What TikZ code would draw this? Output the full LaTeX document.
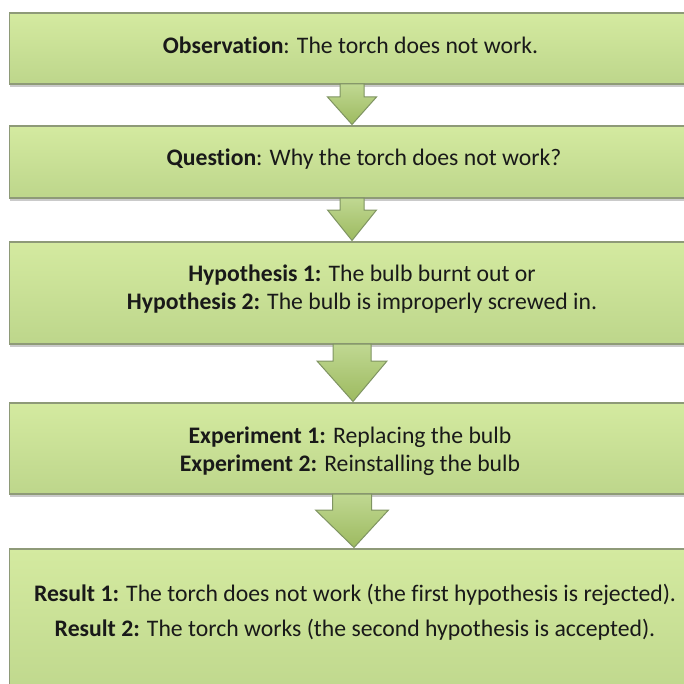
\documentclass[tikz,border=0pt]{standalone}
\usepackage{fontspec}
\setmainfont[Ligatures=CommonOff]{Carlito}
\usetikzlibrary{calc,shadows}
\definecolor{boxtop}{HTML}{D4EAA0}
\definecolor{boxbot}{HTML}{BDD68B}
\definecolor{boxline}{HTML}{8E9A78}
\definecolor{arrtop}{HTML}{C0D892}
\definecolor{arrbot}{HTML}{9DBA60}
\definecolor{arrline}{HTML}{7F9462}
\tikzset{
  stage/.style={draw=boxline, line width=1.1bp, top color=boxtop, bottom color=boxbot,
    minimum width=685bp, inner sep=0pt, outer sep=0pt,
    drop shadow={shadow xshift=1bp, shadow yshift=-3bp, opacity=0.35, fill=black!60}},
  label/.style={font=\fontsize{23.8}{28}\selectfont, align=center, text=black!90, inner sep=0pt},
  blockarrow/.style={draw=arrline, line width=1bp, top color=arrtop, bottom color=arrbot, line join=miter}
}
\newcommand{\blockarrow}[6]{% from, to, stem half, head half, head start offset, tip x offset
  \draw[blockarrow] ($(#1.south)+(-#3,0)$) -- ($(#1.south)+(#3,0)$) -- ($(#1.south)+(#3,#5)$)
    -- ($(#1.south)+(#4,#5)$) -- ($(#2.north)+(#6,-1.5)$) -- ($(#1.south)+(-#4,#5)$)
    -- ($(#1.south)+(-#3,#5)$) -- cycle;}
\begin{document}
\begin{tikzpicture}[x=1bp,y=-1bp]
\useasboundingbox (0,0) rectangle (684,684);
\clip (0,0) rectangle (684,684);
\node[stage, minimum height=71bp] (b1) at (352,48.5) {};
\node[stage, minimum height=72bp] (b2) at (352,162) {};
\node[stage, minimum height=102bp] (b3) at (352,293) {};
\node[stage, minimum height=91bp] (b4) at (352,448.5) {};
\node[stage, minimum height=160bp] (b5) at (352,629) {};
\node[label] (t1) at (350.5,45) {\textbf{Observation}: The torch does not work.};
\node[label] (t2) at (364,159) {\textbf{Question}: Why the torch does not work?};
\node[label] (t3) at (362,289) {\textbf{Hypothesis 1:} The bulb burnt out or\\\textbf{Hypothesis 2:} The bulb is improperly screwed in.};
\node[label] (t4) at (350,451) {\textbf{Experiment 1:} Replacing the bulb\\\textbf{Experiment 2:} Reinstalling the bulb};
\node[label, font=\fontsize{23.8}{35}\selectfont] (t5) at (355,612.5) {\textbf{Result 1:} The torch does not work (the first hypothesis is rejected).\\\textbf{Result 2:} The torch works (the second hypothesis is accepted).};
\blockarrow{b1}{b2}{12}{24.5}{13}{0}
\blockarrow{b2}{b3}{12}{24.5}{12}{0}
\blockarrow{b3}{b4}{19}{35}{17}{1}
\blockarrow{b4}{b5}{19.5}{36.5}{16}{2}
\end{tikzpicture}
\end{document}
